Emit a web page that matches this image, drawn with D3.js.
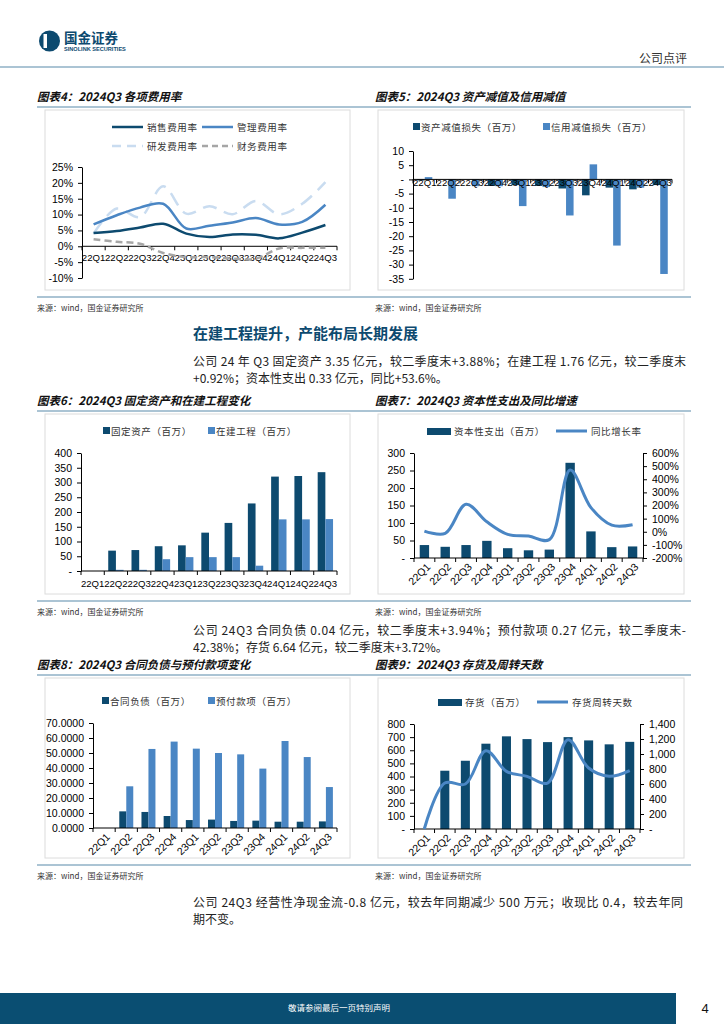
<!DOCTYPE html>
<html>
<head>
<meta charset="utf-8">
<script src="https://cdn.jsdelivr.net/npm/d3@7"></script>
<style>body{margin:0;background:#fff}</style>
</head>
<body>
<script>
const WIDTH = 724;
const HEIGHT = 1024;

const DARK = '#0d4a6f';
const LIGHT = '#4a86c4';
const PALE = '#c9dcf0';
const GREY = '#a6a6a6';
const RULE = '#8fb0c6';
const CN = '"Noto Sans CJK SC", sans-serif';
const NUM = '"Liberation Sans", Arial, sans-serif';

// data
const categories = ['22Q1','22Q2','22Q3','22Q4','23Q1','23Q2','23Q3','23Q4','24Q1','24Q2','24Q3'];

const salesRate = [4.2, 4.8, 5.9, 7.1, 4.0, 2.9, 3.7, 3.6, 2.5, 4.3, 6.7];
const adminRate = [6.9, 9.8, 12.2, 13.4, 5.6, 6.5, 7.5, 8.9, 6.9, 7.7, 13.1];
const rdRate = [4.0, 11.9, 9.2, 18.9, 10.3, 12.6, 10.1, 14.3, 10.1, 13.4, 20.2];
const finRate = [2.2, 1.4, 0.8, -2.1, -3.4, -3.4, -3.9, -3.9, -0.7, -0.5, -0.5];

const assetImpair = [-0.4, 0, 0, -2.3, -2.0, -2.3, -3.2, -5.6, -2.9, -3.5, -2.0];
const creditImpair = [0.8, -6.8, -2.4, -2.4, -9.4, -2.7, -12.7, 5.3, -23.3, -2.9, -33.3];

const fixedAssets = [0, 69, 71, 84, 87, 130, 163, 229, 320, 322, 335];
const constructionInProgress = [0, 4, 4, 40, 47, 47, 47, 18, 175, 175, 176];

const capex = [37, 32, 37, 49, 28, 22, 24, 272, 76, 31, 33];
const capexYoY = [5, -12, 210, 76, -20, -33, -60, 470, 184, 50, 53.6];

const contractLiab = [0, 11.1, 10.7, 8.0, 5.3, 5.6, 4.7, 4.9, 4.2, 4.2, 4.4];
const prepayments = [0, 27.8, 52.7, 57.6, 52.9, 50.0, 49.1, 39.6, 58.0, 47.3, 27.3];

const inventory = [0, 444, 520, 650, 706, 685, 662, 700, 675, 645, 664];
const inventoryDays = [0, 613, 600, 1044, 769, 702, 613, 1191, 813, 702, 778];

const svg = d3.select('body').append('svg')
  .attr('width', WIDTH)
  .attr('height', HEIGHT)
  .style('display', 'block');

function txt(x, y, s, size, opts) {
  opts = opts || {};
  const t = svg.append('text')
    .attr('x', x).attr('y', y)
    .text(s)
    .style('font-family', opts.font || CN)
    .style('font-size', size + 'px')
    .attr('fill', opts.fill || '#222');
  if (opts.anchor) t.attr('text-anchor', opts.anchor);
  if (opts.weight) t.style('font-weight', opts.weight);
  if (opts.italic) t.style('font-style', 'italic');
  if (opts.len) t.attr('textLength', opts.len).attr('lengthAdjust', 'spacing');
  if (opts.ls) t.style('letter-spacing', opts.ls + 'px');
  return t;
}

// ---- header ----
svg.append('circle').attr('cx', 49.5).attr('cy', 41).attr('r', 10.5).attr('fill', DARK);
svg.append('rect').attr('x', 43.5).attr('y', 34).attr('width', 3.5).attr('height', 14).attr('fill', '#fff');
txt(64, 42.5, '国金证券', 13.5, {weight: 700, fill: DARK});
txt(64, 51, 'SINOLINK SECURITIES', 5.6, {font: NUM, weight: 700, fill: DARK});
txt(687, 63, '公司点评', 12, {anchor: 'end', fill: '#333'});
svg.append('line').attr('x1', 0).attr('x2', WIDTH).attr('y1', 67).attr('y2', 67)
  .attr('stroke', RULE).attr('stroke-width', 1.5);

// ---- panel frames ----
function panelRow(titleY, leftTitle, rightTitle) {
  txt(37, titleY + 4, leftTitle, 11.5, {weight: 700, italic: true, fill: '#111'});
  txt(375, titleY + 4, rightTitle, 11.5, {weight: 700, italic: true, fill: '#111'});
  svg.append('line').attr('x1', 37).attr('x2', 691).attr('y1', titleY + 10).attr('y2', titleY + 10)
    .attr('stroke', RULE).attr('stroke-width', 1.5);
  svg.append('line').attr('x1', 37).attr('x2', 691).attr('y1', titleY + 200).attr('y2', titleY + 200)
    .attr('stroke', RULE).attr('stroke-width', 1.5);
  [[45, 350], [378, 684]].forEach(([a, b]) => {
    svg.append('rect').attr('x', a).attr('y', titleY + 13).attr('width', b - a).attr('height', 180)
      .attr('fill', 'none').attr('stroke', '#dcdcdc');
  });
  txt(37, titleY + 214, '来源：wind，国金证券研究所', 8, {fill: '#333'});
  txt(375, titleY + 214, '来源：wind，国金证券研究所', 8, {fill: '#333'});
}

panelRow(97, '图表4：2024Q3 各项费用率', '图表5：2024Q3 资产减值及信用减值');
panelRow(401, '图表6：2024Q3 固定资产和在建工程变化', '图表7：2024Q3 资本性支出及同比增速');
panelRow(665, '图表8：2024Q3 合同负债与预付款项变化', '图表9：2024Q3 存货及周转天数');

// ---- text blocks ----
txt(193, 339, '在建工程提升，产能布局长期发展', 15, {weight: 700, fill: DARK});
txt(193, 366, '公司 24 年 Q3 固定资产 3.35 亿元，较二季度末+3.88%；在建工程 1.76 亿元，较二季度末', 12, {len: 493});
txt(193, 383, '+0.92%；资本性支出 0.33 亿元，同比+53.6%。', 12);
txt(193, 635, '公司 24Q3 合同负债 0.04 亿元，较二季度末+3.94%；预付款项 0.27 亿元，较二季度末-', 12, {len: 493});
txt(193, 652, '42.38%；存货 6.64 亿元，较二季度末+3.72%。', 12);
txt(193, 907, '公司 24Q3 经营性净现金流-0.8 亿元，较去年同期减少 500 万元；收现比 0.4，较去年同', 12, {len: 490});
txt(193, 924, '期不变。', 12);

// ---- footer ----
svg.append('rect').attr('x', 0).attr('y', 993).attr('width', 676).attr('height', 31).attr('fill', '#0a4e72');
txt(339, 1011, '敬请参阅最后一页特别声明', 8.5, {anchor: 'middle', fill: '#fff'});
txt(705, 1013, '4', 13, {anchor: 'middle', font: NUM, fill: '#111'});

// ---- axis helpers ----
function styleAxis(g) {
  g.selectAll('text').style('font-family', NUM).style('font-size', '10.5px').attr('fill', '#000');
  g.selectAll('path, line').attr('stroke', '#000');
}

function valueAxis(x, scale, values, fmt, side) {
  const axis = side === 'right' ? d3.axisRight(scale) : d3.axisLeft(scale);
  const g = svg.append('g').attr('transform', `translate(${x},0)`)
    .call(axis.tickValues(values).tickFormat(fmt).tickSize(4).tickSizeOuter(0).tickPadding(5));
  styleAxis(g);
  return g;
}

function categoryAxis(x, y, labelDy, rotated) {
  const g = svg.append('g').attr('transform', `translate(0,${y})`);
  const [x0, x1] = x.range();
  g.append('line').attr('x1', x0).attr('x2', x1).attr('stroke', '#000');
  const edges = x.domain().map(c => x(c)).concat([x1]);
  g.selectAll('line.tick').data(edges).enter().append('line')
    .attr('x1', d => d).attr('x2', d => d).attr('y1', 0).attr('y2', 4).attr('stroke', '#000');
  const labels = g.selectAll('text').data(x.domain()).enter().append('text')
    .text(d => d)
    .style('font-family', NUM).attr('fill', '#000');
  if (rotated) {
    labels.style('font-size', '10.5px').attr('text-anchor', 'end')
      .attr('transform', d => `translate(${x(d) + x.bandwidth() / 2 + 4},${7}) rotate(-45)`)
      .attr('dy', '0.35em');
  } else {
    labels.style('font-size', '9.6px').attr('text-anchor', 'middle')
      .attr('x', d => x(d) + x.bandwidth() / 2).attr('y', labelDy);
  }
}

const dashZero = (f) => (d) => d === 0 ? '-' : f(d);

function legendSquare(x, y, color, label) {
  svg.append('rect').attr('x', x).attr('y', y - 4).attr('width', 7).attr('height', 7).attr('fill', color);
  txt(x + 8, y + 3.5, label, 9.5, {fill: '#333', ls: 0.6});
}

function legendLine(x, y, color, label, dash, w) {
  const l = svg.append('line').attr('x1', x).attr('x2', x + 31).attr('y1', y).attr('y2', y)
    .attr('stroke', color).attr('stroke-width', w || 2.5);
  if (dash) l.attr('stroke-dasharray', dash);
  txt(x + 35, y + 3.5, label, 9.5, {fill: '#333', ls: 0.6});
}

function legendBar(x, y, label) {
  svg.append('rect').attr('x', x).attr('y', y - 3).attr('width', 24).attr('height', 7).attr('fill', DARK);
  txt(x + 27, y + 4, label, 9.5, {fill: '#333', ls: 0.6});
}

function seriesLine(x, y, values, color, width, dash) {
  const line = d3.line()
    .x((d, i) => x(categories[i]) + x.bandwidth() / 2)
    .y(d => y(d))
    .curve(d3.curveCatmullRom);
  const p = svg.append('path').datum(values).attr('d', line)
    .attr('fill', 'none').attr('stroke', color).attr('stroke-width', width)
    .attr('stroke-linejoin', 'round');
  if (dash) p.attr('stroke-dasharray', dash);
}

function groupedBars(x, y, seriesList, colors, frac) {
  const inner = d3.scaleBand().domain(d3.range(seriesList.length))
    .range([x.bandwidth() * (0.5 - frac / 2), x.bandwidth() * (0.5 + frac / 2)]);
  seriesList.forEach((vals, s) => {
    svg.append('g').selectAll('rect').data(vals).enter().append('rect')
      .attr('x', (d, i) => x(categories[i]) + inner(s))
      .attr('width', inner.bandwidth())
      .attr('y', d => Math.min(y(d), y(0)))
      .attr('height', d => Math.abs(y(d) - y(0)))
      .attr('fill', colors[s]);
  });
}

// ---- chart 4: expense ratios ----
{
  const x = d3.scaleBand().domain(categories).range([82, 337]);
  const y = d3.scaleLinear().domain([-10, 25]).range([278, 167]);
  legendLine(112, 127, DARK, '销售费用率');
  legendLine(202, 127, LIGHT, '管理费用率');
  legendLine(112, 146, PALE, '研发费用率', '9,6');
  legendLine(202, 146, GREY, '财务费用率', '6,4');
  valueAxis(82, y, d3.range(-10, 26, 5), d => d + '%');
  categoryAxis(x, y(0), 14.5, false);
  seriesLine(x, y, rdRate, PALE, 2.5, '14,8');
  seriesLine(x, y, finRate, GREY, 2.5, '7,4');
  seriesLine(x, y, adminRate, LIGHT, 2.5);
  seriesLine(x, y, salesRate, DARK, 2.5);
}

// ---- chart 5: impairments ----
{
  const x = d3.scaleBand().domain(categories).range([413, 672]);
  const y = d3.scaleLinear().domain([-35, 10]).range([278.8, 151]);
  legendSquare(413, 127, DARK, '资产减值损失（百万）');
  legendSquare(543, 127, LIGHT, '信用减值损失（百万）');
  groupedBars(x, y, [assetImpair, creditImpair], [DARK, LIGHT], 0.64);
  valueAxis(413, y, d3.range(-35, 11, 5), dashZero(d => d));
  categoryAxis(x, y(0), 6.5, false);
}

// ---- chart 6: fixed assets & CIP ----
{
  const x = d3.scaleBand().domain(categories).range([81, 337]);
  const y = d3.scaleLinear().domain([0, 400]).range([571, 453]);
  legendSquare(103, 431, DARK, '固定资产（百万）');
  legendSquare(208, 431, LIGHT, '在建工程（百万）');
  groupedBars(x, y, [fixedAssets, constructionInProgress], [DARK, LIGHT], 0.66);
  valueAxis(81, y, d3.range(0, 401, 50), dashZero(d => d));
  categoryAxis(x, 571, 15.5, false);
}

// ---- chart 7: capex & yoy ----
{
  const x = d3.scaleBand().domain(categories).range([414, 643]);
  const y = d3.scaleLinear().domain([0, 300]).range([558, 453]);
  const yr = d3.scaleLinear().domain([-200, 600]).range([558, 453]);
  legendBar(427, 431, '资本性支出（百万）');
  legendLine(556, 431, LIGHT, '同比增长率', null, 3);
  groupedBars(x, y, [capex], [DARK], 0.45);
  valueAxis(414, y, d3.range(0, 301, 50), dashZero(d => d));
  valueAxis(643, yr, d3.range(-200, 601, 100), d => d + '%', 'right');
  categoryAxis(x, 558, 0, true);
  seriesLine(x, yr, capexYoY, LIGHT, 3);
}

// ---- chart 8: contract liabilities & prepayments ----
{
  const x = d3.scaleBand().domain(categories).range([93, 337]);
  const y = d3.scaleLinear().domain([0, 70]).range([828, 723]);
  legendSquare(102, 701, DARK, '合同负债（百万）');
  legendSquare(208, 701, LIGHT, '预付款项（百万）');
  groupedBars(x, y, [contractLiab, prepayments], [DARK, LIGHT], 0.63);
  valueAxis(93, y, d3.range(0, 71, 10), d3.format('.4f'));
  categoryAxis(x, 828, 0, true);
}

// ---- chart 9: inventory & turnover days ----
{
  const x = d3.scaleBand().domain(categories).range([414, 640]);
  const y = d3.scaleLinear().domain([0, 800]).range([829, 724]);
  const yr = d3.scaleLinear().domain([0, 1400]).range([829, 724]);
  legendBar(438, 702, '存货（百万）');
  legendLine(537, 702, LIGHT, '存货周转天数', null, 3);
  groupedBars(x, y, [inventory], [DARK], 0.44);
  valueAxis(414, y, d3.range(0, 801, 100), dashZero(d => d));
  valueAxis(640, yr, d3.range(0, 1401, 200), dashZero(d3.format(',')), 'right');
  categoryAxis(x, 829, 0, true);
  seriesLine(x, yr, inventoryDays, LIGHT, 3);
}
</script>
</body>
</html>
